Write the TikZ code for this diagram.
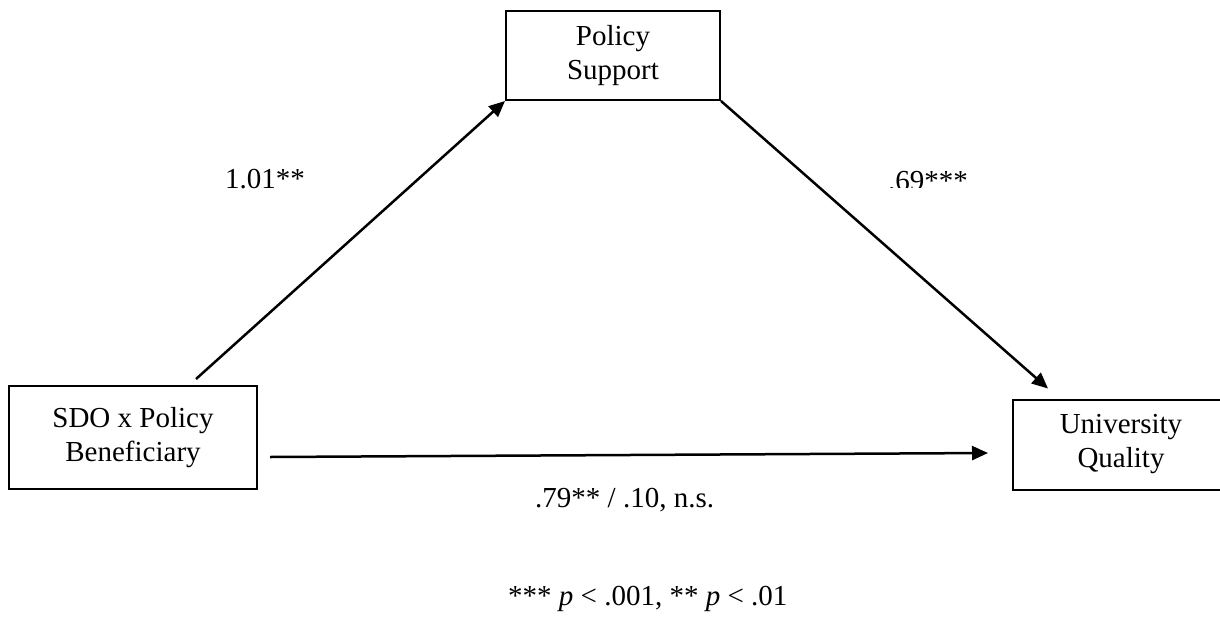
\documentclass[tikz,border=0pt]{standalone}
\usepackage{fontspec}
\setmainfont{Liberation Serif}
\usetikzlibrary{arrows.meta,calc}
\begin{document}
\begin{tikzpicture}[x=1pt,y=-1pt,
  box/.style={draw=black,line width=2pt,align=center,inner sep=0pt,
    font=\fontsize{29}{34}\selectfont},
  lbl/.style={anchor=base west,inner sep=0pt,font=\fontsize{29}{34}\selectfont},
  conn/.style={line width=2.5pt,-{Triangle[length=16pt,width=14pt]}}]
\useasboundingbox (0,0) rectangle (1220,624);
\fill[white] (0,0) rectangle (1220,624);
\node[box,minimum width=214pt,minimum height=89pt] (ps) at (613,55.5) {Policy\\Support};
\node[box,minimum width=248pt,minimum height=103pt] (sdo) at (133,437.5) {SDO x Policy\\Beneficiary};
\node[box,minimum width=216pt,minimum height=90pt] (uq) at (1121,444.5) {University\\Quality};
\coordinate (a1s) at ($(sdo.north west)+(188,-6)$);
\coordinate (a2e) at ($(uq.north west)+(36,-10)$);
\coordinate (a3s) at ($(sdo.east)+(12,19.5)$);
\coordinate (a3e) at ($(uq.west)+(-24,8.5)$);
\draw[conn] (a1s) -- (ps.south west);
\draw[conn] (ps.south east) -- (a2e);
\draw[conn] (a3s) -- (a3e);
\node[lbl] (l1) at (225,188) {1.01**};
\begin{scope}
\clip (880,150) rectangle (980,187);
\node[lbl] (l2) at (888,190) {.69***};
\end{scope}
\node[lbl] (l3) at (535,507) {.79** / .10, n.s.};
\node[lbl] (fn) at (508,605) {*** \textit{p} < .001, ** \textit{p} < .01};
\end{tikzpicture}
\end{document}
